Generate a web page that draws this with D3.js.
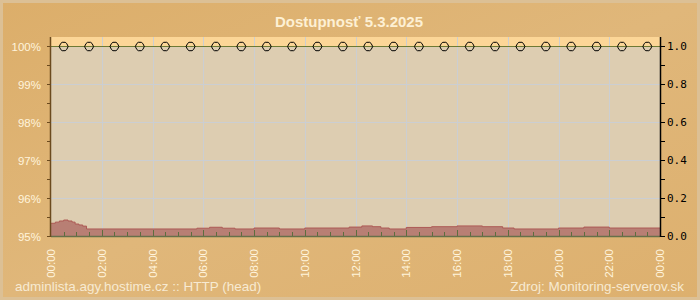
<!DOCTYPE html>
<html>
<head>
    <meta charset="UTF-8">
    <title>Dostupnosť</title>
    <style type="text/css">
        body { margin: 0; background: #dcb273; }
        svg { display: block; }
        .lbl { font-family: "Liberation Sans", Arial, sans-serif; font-size: 11.5px; fill: #fff4dc; }
        .rlbl text { font-family: "DejaVu Sans Mono", monospace; font-size: 11px; fill: #000; }
    </style>
    <script src="https://d3js.org/d3.v7.min.js"></script>
</head>
<body>
<script type="text/javascript">
    // availability per hour (%), marker at half hour
    const availHours = d3.range(0, 24);
    const availValues = [100, 100, 100, 100, 100, 100, 100, 100, 100, 100, 100, 100,
                         100, 100, 100, 100, 100, 100, 100, 100, 100, 100, 100, 100];

    // response time (s), step series: start hour and value
    const respHours = [0, 0.17, 0.33, 0.5, 0.67, 0.83, 0.95, 1.1, 1.25, 1.4,
                       5.75, 6.25, 6.75, 7.25, 8, 9, 10, 11.75, 12.25, 12.67, 13, 13.33,
                       14, 15, 16, 17, 17.8, 18.25, 20, 21, 22];
    const respValues = [0.067, 0.073, 0.079, 0.084, 0.079, 0.073, 0.063, 0.058, 0.052, 0.037,
                        0.041, 0.046, 0.041, 0.037, 0.042, 0.037, 0.042, 0.047, 0.053, 0.049, 0.042, 0.037,
                        0.045, 0.049, 0.053, 0.049, 0.042, 0.037, 0.042, 0.047, 0.042];

    const xTicks = ["00:00", "02:00", "04:00", "06:00", "08:00", "10:00", "12:00",
                    "14:00", "16:00", "18:00", "20:00", "22:00", "00:00"];

    const W = 700, H = 300;
    const pL = 51, pR = 660, pT = 37, pB = 236;

    const svg = d3.select("body").append("svg")
        .attr("width", W).attr("height", H);

    // background
    const defs = svg.append("defs");
    const g1 = defs.append("linearGradient").attr("id", "bg")
        .attr("x1", 0).attr("y1", 0).attr("x2", 1).attr("y2", 1);
    g1.append("stop").attr("offset", 0).attr("stop-color", "#dcae6a");
    g1.append("stop").attr("offset", 0.5).attr("stop-color", "#e0b77a");
    g1.append("stop").attr("offset", 1).attr("stop-color", "#ddb06e");
    svg.append("rect").attr("x", 1.5).attr("y", 1.5).attr("width", W - 3).attr("height", H - 3)
        .attr("fill", "url(#bg)").attr("stroke", "#dcc095").attr("stroke-width", 3);

    const x = d3.scaleLinear().domain([0, 24]).range([pL, pR]);
    const yL = d3.scaleLinear().domain([95, 100]).range([pB, 46]);
    const yR = d3.scaleLinear().domain([0, 1]).range([pB, 46]);

    // plot background
    svg.append("rect").attr("x", pL).attr("y", pT).attr("width", pR - pL)
        .attr("height", pB - pT).attr("fill", "#ddcdb1");
    svg.append("rect").attr("x", pL).attr("y", pT).attr("width", pR - pL)
        .attr("height", yL(100) - pT).attr("fill", "#fcd697");

    // grid
    svg.append("g").selectAll("line").data(d3.range(2, 24, 2)).join("line")
        .attr("x1", d => Math.round(x(d)) + 0.5).attr("x2", d => Math.round(x(d)) + 0.5)
        .attr("y1", pT).attr("y2", pB)
        .attr("stroke", "#cbced2").attr("stroke-width", 1);
    svg.append("g").selectAll("line").data([96, 97, 98, 99]).join("line")
        .attr("x1", pL).attr("x2", pR)
        .attr("y1", d => Math.round(yL(d)) + 0.5).attr("y2", d => Math.round(yL(d)) + 0.5)
        .attr("stroke", "#cbced2").attr("stroke-width", 1);

    // response time area
    const resp = respHours.map((h, i) => ({ h: h, v: respValues[i] }));
    resp.push({ h: 24, v: respValues[respValues.length - 1] });
    const area = d3.area().curve(d3.curveStepAfter)
        .x(d => x(d.h)).y0(yR(0)).y1(d => yR(d.v));
    svg.append("path").datum(resp).attr("d", area).attr("fill", "#b87f74");
    svg.append("path").datum(resp)
        .attr("d", d3.line().curve(d3.curveStepAfter).x(d => x(d.h)).y(d => yR(d.v)))
        .attr("fill", "none").attr("stroke", "#ad5a55").attr("stroke-width", 1);

    // small ticks on bottom
    svg.append("g").selectAll("line").data(d3.range(0.5, 24, 0.5)).join("line")
        .attr("x1", d => Math.round(x(d)) + 0.5).attr("x2", d => Math.round(x(d)) + 0.5)
        .attr("y1", pB).attr("y2", d => d % 2 === 0 ? pB - 6 : pB - 4)
        .attr("stroke", "#5d6e3e").attr("stroke-width", 1);
    svg.append("line").attr("x1", pL).attr("x2", pR)
        .attr("y1", pB + 0.5).attr("y2", pB + 0.5)
        .attr("stroke", "#66704a").attr("stroke-width", 1.5);

    // availability line and markers
    const segs = [];
    availHours.forEach((h, i) => { segs.push({ h: h, v: availValues[i] }, { h: h + 1, v: availValues[i] }); });
    svg.append("path").datum(segs)
        .attr("d", d3.line().x(d => x(d.h)).y(d => yL(d.v) + 0.5))
        .attr("fill", "none").attr("stroke", "#6e7a34").attr("stroke-width", 1.2);
    svg.append("g").selectAll("path").data(availHours).join("path")
        .attr("transform", (h, i) => `translate(${x(h + 0.5)},${yL(availValues[i]) + 0.5})`)
        .attr("d", "M-4.5,0 L-3,-3 L-1.5,-4.2 L1.5,-4.2 L3,-3 L4.5,0 L3,3 L1.5,4.2 L-1.5,4.2 L-3,3 Z")
        .attr("fill", "none").attr("stroke", "#000").attr("stroke-width", 1);

    // left axis
    const axL = svg.append("g").attr("transform", `translate(${pL},0)`)
        .call(d3.axisLeft(yL).tickValues(d3.range(95, 100.01, 0.5))
            .tickFormat(d => d % 1 === 0 ? d + "%" : "").tickSize(4).tickPadding(6));
    axL.select(".domain").remove();
    axL.selectAll("line").attr("stroke", "#6b4a1e");
    axL.selectAll("text").attr("class", "lbl").attr("font-family", null).attr("font-size", null)
        .attr("fill", null).attr("dy", "0.36em");
    svg.append("line").attr("x1", pL - 0.5).attr("x2", pL - 0.5).attr("y1", pT).attr("y2", pB + 1)
        .attr("stroke", "#6b4a1e").attr("stroke-width", 1.5);

    // right axis
    const axR = svg.append("g").attr("class", "rlbl").attr("transform", `translate(${pR},0)`)
        .call(d3.axisRight(yR).tickValues(d3.range(0, 1.01, 0.1))
            .tickFormat(d => Math.round(d * 10) % 2 === 0 ? d.toFixed(1) : "").tickSize(5).tickPadding(2));
    axR.select(".domain").remove();
    axR.selectAll("line").attr("stroke", "#000");
    axR.selectAll("text").attr("font-family", null).attr("font-size", null).attr("fill", null);
    svg.append("line").attr("x1", pR + 0.5).attr("x2", pR + 0.5).attr("y1", pT).attr("y2", pB + 1)
        .attr("stroke", "#000").attr("stroke-width", 1.5);

    // x labels
    svg.append("g").selectAll("text").data(xTicks).join("text")
        .attr("class", "lbl")
        .attr("transform", (d, i) => `translate(${x(i * 2) + 4},249) rotate(-90)`)
        .attr("text-anchor", "end")
        .text(d => d);

    // title
    svg.append("text").attr("x", 349).attr("y", 27).attr("text-anchor", "middle")
        .attr("font-family", "'Liberation Sans', Arial, sans-serif").attr("font-weight", "bold")
        .attr("font-size", 15).attr("fill", "#fdf0d4")
        .text("Dostupnosť 5.3.2025");

    // footer
    svg.append("text").attr("x", 15).attr("y", 291)
        .attr("font-family", "'Liberation Sans', Arial, sans-serif").attr("font-size", 13.5)
        .attr("fill", "#f7ead2").text("adminlista.agy.hostime.cz :: HTTP (head)");
    svg.append("text").attr("x", 684).attr("y", 291).attr("text-anchor", "end")
        .attr("font-family", "'Liberation Sans', Arial, sans-serif").attr("font-size", 13.5)
        .attr("fill", "#f7ead2").text("Zdroj: Monitoring-serverov.sk");
</script>
</body>
</html>
